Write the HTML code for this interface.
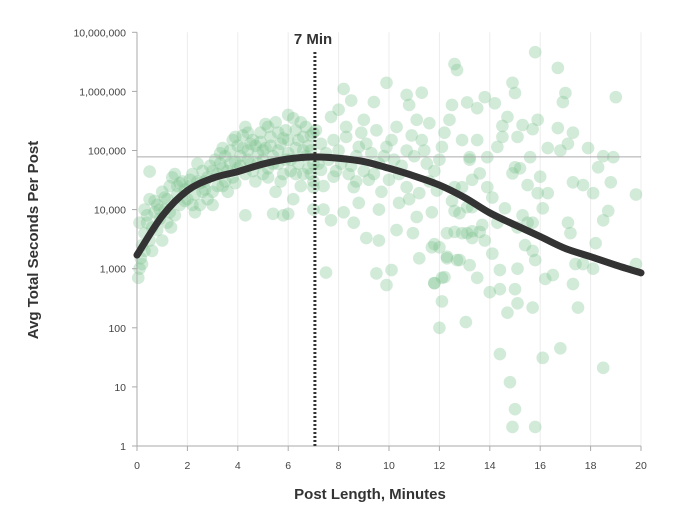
<!DOCTYPE html>
<html><head><meta charset="utf-8">
<style>
html,body{margin:0;padding:0;background:#fff;}
svg{display:block;font-family:"Liberation Sans",sans-serif;}
.tick{font-size:10.5px;fill:#444;}
.title{font-size:15px;font-weight:bold;fill:#333;}
</style></head>
<body>
<svg id="chart" width="689" height="522" viewBox="0 0 689 522">
  <g id="grid"></g>
  <g id="dots"></g>
  <line id="refline" stroke="#aaa" stroke-width="1"/>
  <g id="axes"></g>
  <path id="curve" fill="none" stroke="#333" stroke-width="7" stroke-linecap="round"/>
  <line id="marker" stroke="#333" stroke-width="3" stroke-dasharray="2,2"/>
  <text x="313" y="44" text-anchor="middle" class="title">7 Min</text>
  <text x="370" y="499" text-anchor="middle" class="title">Post Length, Minutes</text>
  <text transform="translate(38,240) rotate(-90)" text-anchor="middle" class="title">Avg Total Seconds Per Post</text>
</svg>
<script>
const xTicks = [0,2,4,6,8,10,12,14,16,18,20];
const yTicks = [1,10,100,1000,10000,100000,1000000,10000000];
const yTickLabels = ["1","10","100","1,000","10,000","100,000","1,000,000","10,000,000"];
const curveMinutes = [0,1,2,3,4,5,6,7,8,9,10,11,12,13,14,15,16,17,18,19,20];
const curveValues = [1700,7800,21000,34000,44000,59000,72000,78000,74000,65000,50000,37000,26000,16000,8800,5500,3500,2200,1600,1150,850];
const peakMinute = 7.06;
const peakValue = 78000;
const points = [
[0.05,700],[0.1,1000],[0.15,1500],[0.2,2500],[0.3,4000],[0.1,6000],[0.4,8000],[0.5,3000],[0.6,5000],[0.7,9000],[0.8,12000],[0.9,7000],[0.5,15000],[0.3,10000],[0.2,1200],[0.6,2000],[0.5,44000],[1.0,20000],[0.8,4500],
[1.1,10000],[1.2,15000],[1.3,25000],[1.4,35000],[1.5,8000],[1.6,18000],[1.7,12000],[1.8,30000],[1.9,22000],[1.2,6000],[1.5,40000],[2.0,15000],[1.7,28000],[1.35,5000],[1.0,3000],
[2.1,25000],[2.2,40000],[2.3,18000],[2.4,30000],[2.5,12000],[2.6,45000],[2.7,22000],[2.8,35000],[2.9,55000],[3.0,20000],[2.5,28000],[2.2,12000],[2.8,15000],[3.1,70000],[2.4,60000],
[3.2,40000],[3.3,60000],[3.4,25000],[3.5,80000],[3.6,45000],[3.7,100000],[3.8,35000],[3.9,65000],[4.0,120000],[3.5,30000],[3.8,150000],[4.0,50000],[3.3,90000],[3.6,20000],
[4.1,80000],[4.2,180000],[4.3,40000],[4.4,100000],[4.5,60000],[4.6,150000],[4.7,30000],[4.8,90000],[4.9,200000],[5.0,70000],[4.5,130000],[4.3,250000],[5.0,40000],
[5.1,110000],[5.2,50000],[5.3,170000],[5.4,80000],[5.5,300000],[5.6,60000],[5.7,130000],[5.8,40000],[5.9,220000],[6.0,90000],[5.5,20000],[5.8,160000],[5.2,250000],
[6.1,70000],[6.2,350000],[6.3,40000],[6.4,150000],[6.5,25000],[6.6,100000],[6.7,250000],[6.8,50000],[6.9,180000],[7.0,30000],[6.0,400000],[6.5,300000],[6.2,15000],[5.8,8000],[5.4,8500],[6.0,8500],[6.8,120000],[4.3,8000],
[0.3,2000],[0.4,6000],[0.7,14000],[0.9,10000],[1.1,16000],[1.3,9000],[1.6,25000],[1.9,14000],[2.1,32000],[2.3,9000],[2.6,20000],[2.7,30000],[3.0,45000],[3.0,12000],[3.2,25000],[3.4,50000],[3.4,110000],[3.7,60000],[3.9,28000],[3.9,170000],
[4.1,55000],[4.2,110000],[4.4,70000],[4.4,200000],[4.6,45000],[4.7,120000],[4.8,60000],[4.9,140000],[5.0,100000],[5.1,280000],[5.2,35000],[5.3,120000],[5.4,60000],[5.6,200000],[5.6,100000],[5.7,30000],[5.9,70000],[6.0,150000],[6.1,45000],[6.3,110000],
[6.3,220000],[6.4,60000],[6.6,40000],[6.6,170000],[6.7,80000],[6.9,100000],[6.9,40000],[7.0,200000],[7.0,60000],[7.3,130000],[7.4,25000],[7.6,70000],[7.9,45000],[8.0,100000],[8.3,250000],[8.5,55000],[8.9,200000],[9.1,130000],[9.4,40000],[9.8,80000],
[10.1,150000],[10.4,40000],[10.9,180000],[11.4,100000],[11.8,45000],[12.2,200000],[8.7,30000],[9.7,20000],[10.8,15000],[11.6,30000],
[8.2,1100000],[9.9,1400000],[12.6,2900000],[12.7,2300000],[10.7,870000],[11.3,950000],[8.5,700000],[9.4,660000],[10.8,590000],[12.5,590000],[13.1,650000],
[8.0,490000],[9.0,330000],[9.5,220000],[10.3,250000],[11.1,330000],[11.6,290000],[12.4,330000],
[7.1,220000],[7.7,370000],[8.3,170000],[8.8,115000],[9.9,115000],[10.7,100000],[11.3,150000],[12.1,115000],[12.9,150000],[13.2,70000],
[7.3,47000],[7.8,36000],[8.6,24000],[9.2,32000],[10.0,32000],[10.7,24000],[11.2,19000],[11.9,21000],[12.5,14000],[13.1,11000],
[7.4,10000],[8.2,9000],[8.8,13000],[9.6,10000],[10.4,13000],[11.1,7500],[11.7,9000],[12.3,4000],[13.1,4000],
[7.7,6600],[8.6,6000],[10.3,4500],[10.95,4000],[9.1,3300],[9.6,3000],[11.2,1500],[11.7,2300],[12.3,1600],[12.7,1400],[7.5,860],[9.5,830],[10.1,950],[9.9,530],[11.8,570],[12.1,700],
[7.0,24000],[7.0,10000],[7.2,60000],[7.5,90000],[7.8,150000],[8.1,60000],[8.4,40000],[8.7,80000],[9.0,45000],[9.3,90000],[9.6,60000],[10.2,70000],[10.5,55000],[11.0,80000],[11.5,60000],[12.0,70000],
[15.8,4600000],[16.7,2500000],[19.0,800000],[14.9,1400000],[15.0,940000],[17.0,940000],[16.9,660000],[13.8,800000],[14.2,630000],[13.5,520000],[14.7,370000],[15.9,330000],[14.5,260000],[15.3,270000],[15.7,230000],[16.7,240000],[17.3,200000],[15.1,170000],
[16.3,110000],[16.8,100000],[17.1,130000],[17.9,110000],[18.5,80000],[18.9,77000],[18.3,52000],[17.3,29000],[17.7,26000],[18.1,19000],[18.8,29000],[19.8,18000],[18.7,9500],[18.5,6600],[18.2,2700],[19.8,1200],[17.7,1200],[17.4,1200],[18.1,1000],
[17.3,550],[17.5,220],[16.8,45],[18.5,21],[16.1,31],[14.4,36],[14.8,12],[15.0,4.2],[14.9,2.1],[15.8,2.1],
[16.0,36000],[15.9,19000],[16.3,19000],[16.1,10500],[15.5,26000],[15.2,50000],[14.9,41000],[14.6,10500],[15.3,8000],[15.7,6000],[15.1,5000],[15.4,2500],[15.7,2000],[15.8,1400],[15.1,1000],[15.0,450],[15.1,260],[15.7,220],[14.7,180],[16.2,670],[16.5,780],[17.1,6000],[17.2,4000],
[13.9,24000],[14.1,16000],[14.3,6000],[13.6,4200],[13.3,3300],[13.8,3000],[14.1,1800],[14.4,950],[14.0,400],[14.4,450],[13.5,700],[13.2,1150],[12.8,1400],[12.3,1500],[12.0,2300],[11.8,2600],[11.8,570],[12.1,280],[12.0,100],[13.05,125],[12.2,720],
[12.6,4200],[12.9,4000],[13.3,4300],[12.8,8700],[12.6,9500],[13.3,11000],[13.7,5500],[12.9,24000],[13.3,32000],[12.6,24000],[13.6,41000],[13.2,77000],[13.9,77000],[13.5,150000],[14.3,115000],[14.5,170000],[15.6,77000],[15.0,52000],[15.5,6000]
];

const NS = "http://www.w3.org/2000/svg";
const X0 = 137, X1 = 641, YB = 446, DEC = 59.1;
function xScale(m){ return X0 + (m/20)*(X1-X0); }
function yScale(v){ return YB - Math.log10(v)*DEC; }
function mk(tag, attrs, parent){ const e=document.createElementNS(NS,tag); for(const k in attrs) e.setAttribute(k,attrs[k]); parent.appendChild(e); return e; }

const grid = document.getElementById('grid');
const axes = document.getElementById('axes');
xTicks.forEach(t=>{
  if(t>0){
    const g = mk('line',{x1:xScale(t),x2:xScale(t),y1:yScale(1e7),y2:YB,stroke:'#ececec','stroke-width':1},grid);
    
    
  }
  const tk = mk('line',{x1:xScale(t),x2:xScale(t),y1:YB,y2:YB+5,stroke:'#aaa','stroke-width':1},axes);
  
  
  const lb = mk('text',{x:xScale(t),y:YB+23,'text-anchor':'middle',class:'tick'},axes);
  lb.textContent = String(t);
  
  
});
yTicks.forEach((t,i)=>{
  const tk = mk('line',{x1:X0-5,x2:X0,y1:yScale(t),y2:yScale(t),stroke:'#aaa','stroke-width':1},axes);
  
  
  const lb = mk('text',{x:X0-11,y:yScale(t)+4,'text-anchor':'end',class:'tick'},axes);
  lb.textContent = yTickLabels[i];
  
  
});
const ya = mk('line',{x1:X0,x2:X0,y1:yScale(1e7),y2:YB,stroke:'#aaa','stroke-width':1},axes);


const xa = mk('line',{x1:X0,x2:X1,y1:YB,y2:YB,stroke:'#aaa','stroke-width':1},axes);



const dots = document.getElementById('dots');
points.forEach(p=>{
  const c = mk('circle',{cx:xScale(p[0]),cy:yScale(p[1]),r:6.3,fill:'#7fc28f','fill-opacity':0.35},dots);
  
  
});

const ref = document.getElementById('refline');
ref.setAttribute('x1',X0); ref.setAttribute('x2',X1);
ref.setAttribute('y1',yScale(peakValue)); ref.setAttribute('y2',yScale(peakValue));

const mkr = document.getElementById('marker');
mkr.setAttribute('x1',xScale(peakMinute)); mkr.setAttribute('x2',xScale(peakMinute));
mkr.setAttribute('y1',52); mkr.setAttribute('y2',YB);

const pts = curveMinutes.map((m,i)=>[xScale(m),yScale(curveValues[i])]);
let d = 'M'+pts[0][0]+','+pts[0][1];
for(let i=0;i<pts.length-1;i++){
  const p0=pts[Math.max(0,i-1)], p1=pts[i], p2=pts[i+1], p3=pts[Math.min(pts.length-1,i+2)];
  const c1x=p1[0]+(p2[0]-p0[0])/6, c1y=p1[1]+(p2[1]-p0[1])/6;
  const c2x=p2[0]-(p3[0]-p1[0])/6, c2y=p2[1]-(p3[1]-p1[1])/6;
  d += ' C'+c1x+','+c1y+' '+c2x+','+c2y+' '+p2[0]+','+p2[1];
}
document.getElementById('curve').setAttribute('d',d);
</script>
</body></html>
